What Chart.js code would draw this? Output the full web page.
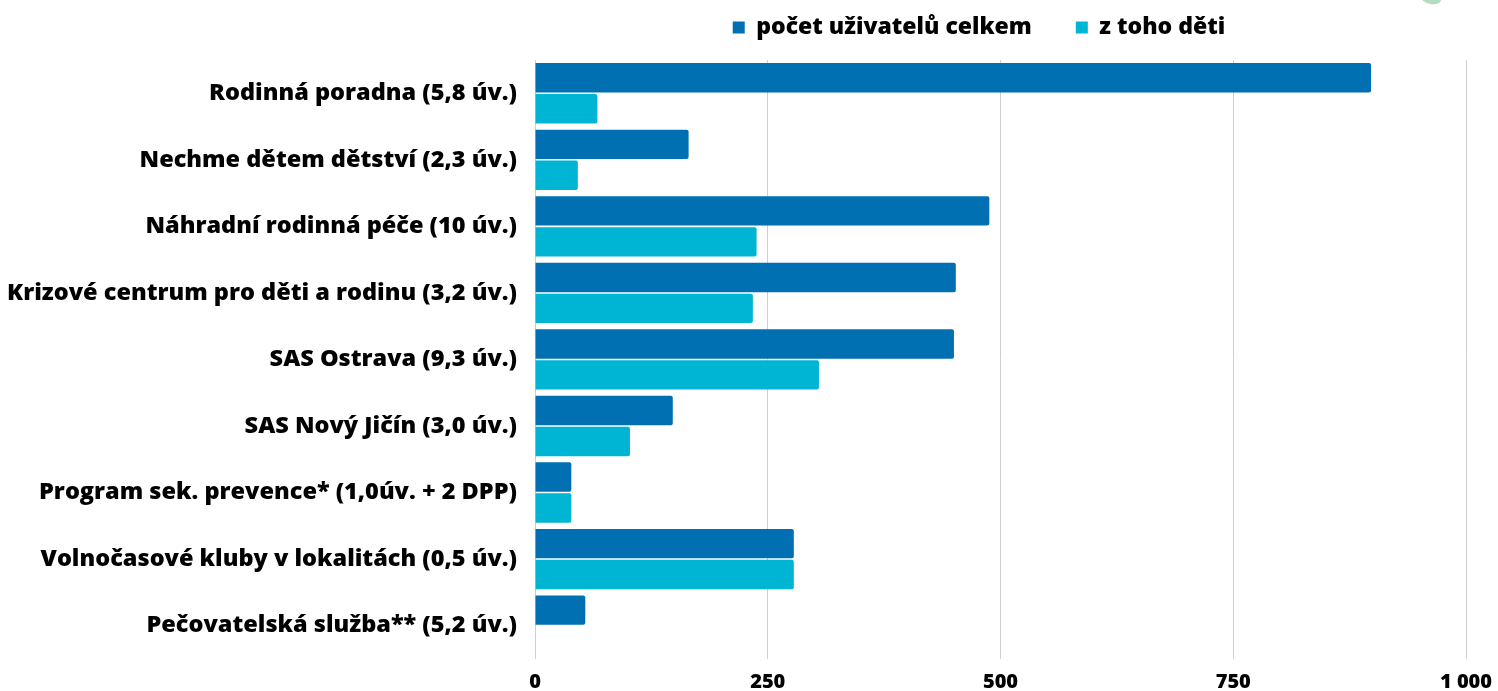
<!DOCTYPE html>
<html lang="cs">
<head>
<meta charset="utf-8">
<script src="https://cdn.jsdelivr.net/npm/chart.js@4/dist/chart.umd.min.js"></script>
<style>
    html, body { margin: 0; padding: 0; background: #fff; overflow: hidden; }
    #wrap { width: 1498px; height: 691px; position: relative; }
</style>
</head>
<body>
<div id="wrap"><canvas id="usersChart"></canvas></div>
<script>

// ==========================================
// Data
// ==========================================

const categories = [
    "Rodinná poradna (5,8 úv.)",
    "Nechme dětem dětství (2,3 úv.)",
    "Náhradní rodinná péče (10 úv.)",
    "Krizové centrum pro děti a rodinu (3,2 úv.)",
    "SAS Ostrava (9,3 úv.)",
    "SAS Nový Jičín (3,0 úv.)",
    "Program sek. prevence* (1,0úv. + 2 DPP)",
    "Volnočasové kluby v lokalitách (0,5 úv.)",
    "Pečovatelská služba** (5,2 úv.)"
];

const seriesNames = ["počet uživatelů celkem", "z toho děti"];

const usersTotal = [898, 165, 488, 452, 450, 148, 39, 278, 54];
const usersChildren = [67, 46, 238, 234, 305, 102, 39, 278, null];

const xTicks = [0, 250, 500, 750, 1000];


// ==========================================
// Helpers
// ==========================================

function formatThousands(value) {
    return String(value).replace(/\B(?=(\d{3})+(?!\d))/g, " ");
}

// extra space under the legend, legend nudged left
const legendGap = {
    id: "legendGap",
    beforeLayout(chart) {
        const legend = chart.legend;
        if (!legend || legend._gapPatched) return;
        const fit = legend.fit;
        legend.fit = function () {
            fit.call(this);
            this.height += 11;
        };
        legend._gapPatched = true;
    },
    afterLayout(chart) {
        if (chart.legend) {
            chart.legend.left -= 43;
        }
    }
};

// small logo fragment in the top right corner
const cornerLogo = {
    id: "cornerLogo",
    afterDraw(chart) {
        const ctx = chart.ctx;
        ctx.save();
        ctx.fillStyle = "#b3dcc0";
        ctx.beginPath();
        ctx.ellipse(1431, -1, 10, 5, 0.2, 0, Math.PI * 2);
        ctx.fill();
        ctx.restore();
    }
};


// ==========================================
// Chart
// ==========================================

const ctx = document.getElementById("usersChart").getContext("2d");

const usersChart = new Chart(ctx, {

    type: "bar",

    data: {

        labels: categories,

        datasets: [
            {
                label: seriesNames[0],
                data: usersTotal,
                backgroundColor: "#0070b3",
                borderRadius: 2,
                borderSkipped: "left"
            },
            {
                label: seriesNames[1],
                data: usersChildren,
                backgroundColor: "#00b5d3",
                borderRadius: 2,
                borderSkipped: "left"
            }
        ]

    },

    options: {

        indexAxis: "y",
        responsive: true,
        maintainAspectRatio: false,
        animation: false,

        categoryPercentage: 0.93,
        barPercentage: 0.95,

        layout: {
            padding: { top: -28, right: 32, bottom: -19, left: 8 }
        },

        plugins: {

            legend: {
                display: true,
                position: "top",
                fullSize: false,
                labels: {
                    boxWidth: 12,
                    boxHeight: 12,
                    padding: 44,
                    color: "#000",
                    font: { family: "'Open Sans'", size: 23, weight: 800 }
                }
            },

            tooltip: { enabled: false }

        },

        scales: {

            x: {
                min: 0,
                max: 1000,
                afterBuildTicks(scale) {
                    scale.ticks = xTicks.map(v => ({ value: v }));
                },
                afterFit(scale) {
                    scale.paddingRight = 0;
                },
                grid: {
                    color: "#cfcfcf",
                    lineWidth: 1,
                    drawTicks: false
                },
                border: { display: false },
                ticks: {
                    padding: 11,
                    color: "#000",
                    font: { family: "'Open Sans'", size: 20, weight: 800 },
                    callback: value => formatThousands(value)
                }
            },

            y: {
                afterFit(scale) {
                    scale.width = 527;
                },
                grid: { display: false, drawTicks: false },
                border: { display: false },
                ticks: {
                    padding: 18,
                    color: "#000",
                    font: { family: "'Open Sans'", size: 23.5, weight: 800 }
                }
            }

        }

    },

    plugins: [legendGap, cornerLogo]

});

</script>
</body>
</html>
